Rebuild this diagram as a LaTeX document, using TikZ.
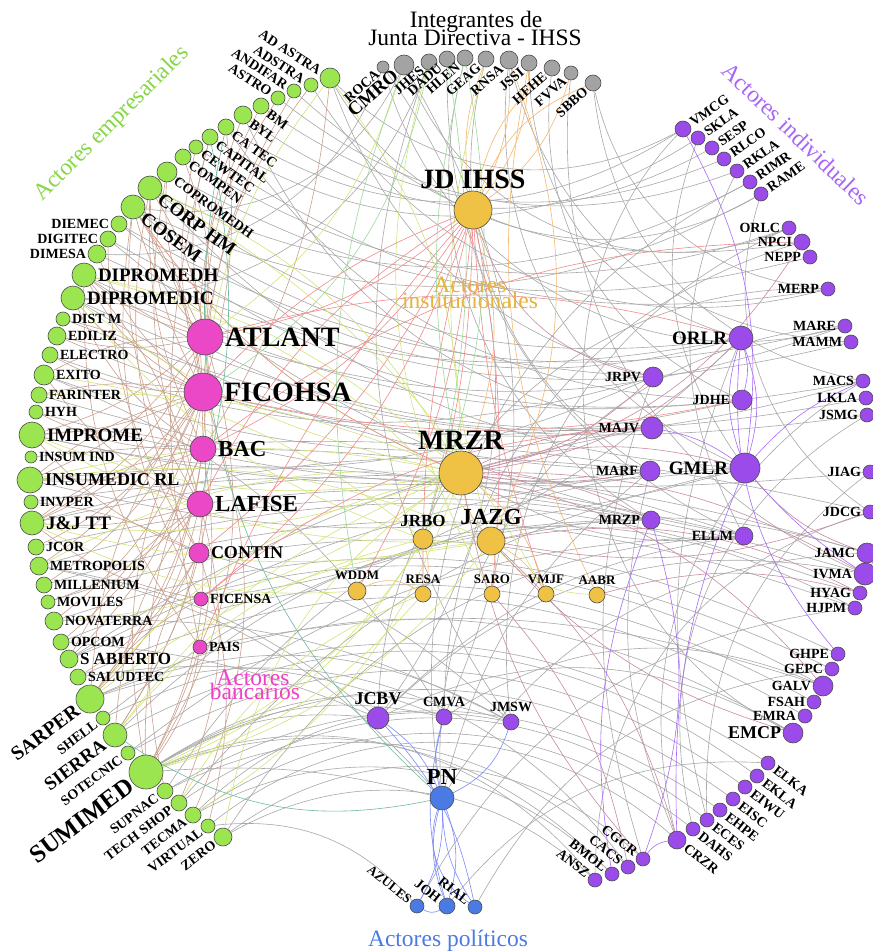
\documentclass[tikz,border=0pt]{standalone}
\usepackage{fontspec}
\setmainfont{Liberation Serif}
\usetikzlibrary{calc}
\pgfdeclarelayer{back}
\pgfdeclarelayer{bg}
\pgfsetlayers{back,bg,main}
\definecolor{cgreen}{HTML}{9BE650}
\definecolor{cgraynd}{HTML}{A3A3A3}
\definecolor{corange}{HTML}{EFC144}
\definecolor{cmag}{HTML}{EA48C6}
\definecolor{cpur}{HTML}{9B4BEA}
\definecolor{cblue}{HTML}{4A7BE5}
\definecolor{tgreen}{HTML}{86D645}
\definecolor{tpur}{HTML}{A866F5}
\definecolor{torange}{HTML}{E6B43A}
\definecolor{tmag}{HTML}{F040C8}
\definecolor{tblue}{HTML}{4A7BE5}
\definecolor{lgray}{HTML}{A8A8A8}
\definecolor{lbrown}{HTML}{C9A08E}
\definecolor{lyg}{HTML}{D3E47A}
\definecolor{lred}{HTML}{F28A8A}
\definecolor{lor}{HTML}{F5B870}
\definecolor{lgr}{HTML}{9ED89E}
\definecolor{lmv}{HTML}{C98BA0}
\definecolor{lpur}{HTML}{A86BF8}
\definecolor{lblue}{HTML}{7C8CF5}
\definecolor{lteal}{HTML}{6FB9A3}
\tikzset{
 nd/.style={circle, draw=black!70, line width=0.6pt, inner sep=0pt, minimum size=#1},
 gn/.style={nd=#1, fill=cgreen},
 yn/.style={nd=#1, fill=cgraynd},
 on/.style={nd=#1, fill=corange},
 mn/.style={nd=#1, fill=cmag},
 pn/.style={nd=#1, fill=cpur},
 bn/.style={nd=#1, fill=cblue},
 f/.style={font=\fontsize{#1}{#1}\selectfont\bfseries, inner sep=1.5pt, text=black},
 grp/.style={font=\fontsize{23.5}{23.5}\selectfont, inner sep=0pt},
 e/.style={line width=0.6pt},
 egray/.style={e, draw=lgray},
 ebr/.style={e, draw=lbrown},
 eyg/.style={e, draw=lyg},
 ered/.style={e, draw=lred},
 eor/.style={e, draw=lor},
 egr/.style={e, draw=lgr},
 emv/.style={e, draw=lmv},
 epu/.style={e, draw=lpur},
 ebl/.style={e, draw=lblue},
 etl/.style={e, draw=lteal},
}
% edge that bows towards the centre of the ring
\newcommand\edg[4]{\draw[#1] let \p1=(#2), \p2=(#3), \p3=(450,480),
  \n1={sign(((\x2-\x1)/100)*((\y3-\y1)/100)-((\y2-\y1)/100)*((\x3-\x1)/100))*#4}
  in (#2) to[bend left=\n1] (#3);}
\begin{document}
\begin{tikzpicture}[x=1pt,y=-1pt]
\begin{pgfonlayer}{back}
\fill[white] (0,0) rectangle (872,952);
\end{pgfonlayer}
\useasboundingbox (0,0) rectangle (872,952);

% ---------- green: outside, top-left
\foreach \nm/\x/\y/\dd/\fs/\tx in {ADASTRA/330/78/20/14/AD ASTRA, ADSTRA/311/85/14/14/ADSTRA, ANDIFAR/294/91/14/14/ANDIFAR, ASTRO/278/98/14/14/ASTRO}
  \node[gn=\dd, label={[f=\fs, rotate=-33, anchor=east]147:\tx}] (\nm) at (\x,\y) {};
% ---------- green: inside, top-left
\foreach \nm/\x/\y/\dd/\fs/\tx in {BM/261/106/16/14/BM, BYL/243/115/18/14/BYL, CATEC/226/127/16/14/CA TEC, CAPITAL/210/137/16/14/CAPITAL, CEWTEC/196/147/14/14/CEWTEC, COMPEN/183/157/16/14/COMPEN, COPROMEDH/167/172/20/14/COPROMEDH, CORPHM/150/188/24/19/CORP HM, COSEM/133/207/24/19/COSEM}
  \node[gn=\dd, label={[f=\fs, rotate=-36, anchor=west]-45:\tx}] (\nm) at (\x,\y) {};
% ---------- green: left labels
\foreach \nm/\x/\y/\dd/\fs/\tx in {DIEMEC/119/224/16/14/DIEMEC, DIGITEC/108/239/16/14/DIGITEC, DIMESA/97/254/18/14/DIMESA}
  \node[gn=\dd, label={[f=\fs]180:\tx}] (\nm) at (\x,\y) {};
% ---------- green: right labels
\foreach \nm/\x/\y/\dd/\fs/\tx in {DIPROMEDH/84/275/24/19/DIPROMEDH, DIPROMEDIC/73/298/24/19/DIPROMEDIC, DISTM/63/319/14/14/DIST M, EDILIZ/57/336/18/14/EDILIZ, ELECTRO/50/355/16/14/ELECTRO, EXITO/44/375/20/14/EXITO, FARINTER/39/395/16/14/FARINTER, HYH/36/412/14/14/HYH, IMPROME/32/435/26/19/IMPROME, INSUMIND/31/457/12/14/INSUM IND, INSUMEDICRL/30/480/26/18/INSUMEDIC RL, INVPER/31/502/14/14/INVPER, JJTT/32/523/24/19/J\&J TT, JCOR/36/547/16/14/JCOR, METROPOLIS/39/566/18/14/METROPOLIS, MILLENIUM/44/585/16/14/MILLENIUM, MOVILES/48/602/14/14/MOVILES, NOVATERRA/54/621/18/14/NOVATERRA, OPCOM/61/642/16/14/OPCOM, SABIERTO/69/659/18/17/S ABIERTO, SALUDTEC/78/677/16/14/SALUDTEC}
  \node[gn=\dd, label={[f=\fs]0:\tx}] (\nm) at (\x,\y) {};
% ---------- green: bottom-left, outside
\foreach \nm/\x/\y/\dd/\fs/\tx in {SARPER/90/699/28/20/SARPER, SHELL/103/718/14/14/SHELL, SIERRA/115/735/24/19/SIERRA, SOTECNIC/128/753/14/14/SOTECNIC, SUMIMED/146/772/34/25/SUMIMED, SUPNAC/165/791/16/14/SUPNAC, TECHSHOP/179/803/16/14/TECH SHOP, TECMA/193/815/16/14/TECMA, VIRTUAL/208/826/14/14/VIRTUAL, ZERO/223/837/18/14/ZERO}
  \node[gn=\dd, label={[f=\fs, rotate=37, anchor=east]217:\tx}] (\nm) at (\x,\y) {};
% ---------- gray: Junta Directiva
\foreach \nm/\x/\y/\dd/\fs/\tx in {ROCA/383/67/12/14/ROCA, CMRO/404/65/20/19/CMRO, JHES/429/62/16/14/JHES, DADU/447/59/16/14/DADU, HLEN/465/58/16/14/HLEN, GEAG/486/59/16/14/GEAG, RNSA/509/60/18/14/RNSA, JSSI/529/63/16/14/JSSI, HEHE/552/68/16/14/HEHE, FVVA/571/73/14/14/FVVA, SBBO/593/83/16/14/SBBO}
  \node[yn=\dd, label={[f=\fs, rotate=41, anchor=east]226:\tx}] (\nm) at (\x,\y) {};
% ---------- orange: institutional
\foreach \nm/\x/\y/\dd/\fs/\tx in {JDIHSS/473/210/38/28/JD IHSS, MRZR/461/473/44/28/MRZR, JRBO/423/539/20/17/JRBO, JAZG/491/541/28/23/JAZG, WDDM/357/591/18/13/WDDM, RESA/423/594/16/13/RESA, SARO/492/594/16/13/SARO, VMJF/546/594/16/13/VMJF, AABR/597/595/16/13/AABR}
  \node[on=\dd, label={[f=\fs]90:\tx}] (\nm) at (\x,\y) {};
% ---------- magenta: banks
\foreach \nm/\x/\y/\dd/\fs/\tx in {ATLANT/205/337/36/28/ATLANT, FICOHSA/203/392/38/28/FICOHSA, BAC/203/449/26/23/BAC, LAFISE/200/504/26/23/LAFISE, CONTIN/199/553/20/18/CONTIN, FICENSA/201/599/14/14/FICENSA, PAIS/200/647/14/14/PAIS}
  \node[mn=\dd, label={[f=\fs]0:\tx}] (\nm) at (\x,\y) {};
% ---------- purple: central, left labels
\foreach \nm/\x/\y/\dd/\fs/\tx in {ORLR/741/338/24/19/ORLR, JRPV/653/377/20/14/JRPV, JDHE/742/400/20/14/JDHE, MAJV/652/428/22/14/MAJV, MARF/650/471/20/14/MARF, GMLR/745/468/30/19/GMLR, MRZP/651/520/18/14/MRZP, ELLM/744/536/18/14/ELLM}
  \node[pn=\dd, label={[f=\fs]180:\tx}] (\nm) at (\x,\y) {};
% ---------- purple: above labels
\foreach \nm/\x/\y/\dd/\fs/\tx in {JCBV/378/718/22/18/JCBV, CMVA/444/717/16/14/CMVA, JMSW/511/722/16/14/JMSW}
  \node[pn=\dd, label={[f=\fs]90:\tx}] (\nm) at (\x,\y) {};
% ---------- purple ring: top-right
\foreach \nm/\x/\y/\dd/\fs/\tx in {VMCG/683/129/16/14/VMCG, SKLA/698/138/14/14/SKLA, SESP/712/148/14/14/SESP, RLCO/724/159/14/14/RLCO, RKLA/737/171/14/14/RKLA, RIMR/750/182/14/14/RIMR, RAME/761/194/14/14/RAME}
  \node[pn=\dd, label={[f=\fs, rotate=35, anchor=west]35:\tx}] (\nm) at (\x,\y) {};
% ---------- purple ring: right, left labels
\foreach \nm/\x/\y/\dd/\fs/\tx in {ORLC/789/228/14/14/ORLC, NPCI/802/242/16/14/NPCI, NEPP/810/257/14/14/NEPP, MERP/828/289/14/14/MERP, MARE/845/326/14/14/MARE, MAMM/851/342/14/14/MAMM, MACS/863/381/14/14/MACS, LKLA/866/398/14/14/LKLA, JSMG/867/415/14/14/JSMG, JIAG/870/472/14/14/JIAG, JDCG/870/512/14/14/JDCG, JAMC/867/553/20/14/JAMC, IVMA/865/574/22/14/IVMA, HYAG/860/593/14/14/HYAG, HJPM/855/608/14/14/HJPM, GHPE/838/654/14/14/GHPE, GEPC/832/669/14/14/GEPC, GALV/823/686/20/14/GALV, FSAH/814/702/14/14/FSAH, EMRA/805/716/14/14/EMRA, EMCP/793/733/20/18/EMCP}
  \node[pn=\dd, label={[f=\fs]180:\tx}] (\nm) at (\x,\y) {};
% ---------- purple ring: bottom-right
\foreach \nm/\x/\y/\dd/\fs/\tx in {ELKA/768/763/14/14/ELKA, EKLA/757/776/14/14/EKLA, EIWU/745/787/14/14/EIWU, EISC/733/799/14/14/EISC, EHPE/720/810/14/14/EHPE, ECES/707/820/14/14/ECES, DAHS/693/829/14/14/DAHS, CRZR/677/840/18/14/CRZR}
  \node[pn=\dd, label={[f=\fs, rotate=-38, anchor=west]-38:\tx}] (\nm) at (\x,\y) {};
\foreach \nm/\x/\y/\dd/\fs/\tx in {CGCR/643/859/14/14/CGCR, CACS/628/867/14/14/CACS, BMOL/612/874/14/14/BMOL, ANSZ/595/880/14/14/ANSZ}
  \node[pn=\dd, label={[f=\fs, rotate=-38, anchor=east]142:\tx}] (\nm) at (\x,\y) {};
% ---------- blue: political
\node[bn=24, label={[f=23]90:PN}] (PN) at (442,798) {};
\foreach \nm/\x/\y/\dd/\fs/\tx in {AZULES/417/906/14/13/AZULES, JOH/447/906/16/14/JOH, RIAL/475/907/14/14/RIAL}
  \node[bn=\dd, label={[f=\fs, rotate=-38, anchor=east]142:\tx}] (\nm) at (\x,\y) {};

% ---------- group titles
\node[grp, anchor=base] (ttl1) at (476,28) {Integrantes de};
\node[grp, anchor=base] (ttl2) at (475,46) {Junta Directiva - IHSS};
\node[grp, text=tgreen, rotate=45] (tEmp) at (112,124) {Actores empresariales};
\node[grp, text=tpur, rotate=-44] (tInd) at (796,134) {Actores individuales};
\node[grp, text=torange, anchor=base] (tIns1) at (470,292) {Actores};
\node[grp, text=torange, anchor=base] (tIns2) at (470,308) {institucionales};
\node[grp, text=tmag, anchor=base] (tBan1) at (253,685) {Actores};
\node[grp, text=tmag, anchor=base] (tBan2) at (255,699) {bancarios};
\node[grp, text=tblue, anchor=base] (tPol) at (448,946) {Actores políticos};

% ---------- edges
\begin{pgfonlayer}{bg}
\foreach \a/\b/\c in {DIEMEC/MARE/12, DIGITEC/MAMM/12, DIMESA/ORLR/10, COSEM/RAME/15, CORPHM/RIMR/15, COPROMEDH/NEPP/12, COMPEN/ORLC/14, CEWTEC/MERP/12, CAPITAL/SKLA/18, CATEC/VMCG/18, BYL/SESP/18, BM/RLCO/16, ASTRO/RKLA/16, ADASTRA/VMCG/20, ANDIFAR/NPCI/14, DIPROMEDH/MACS/10, DIPROMEDIC/LKLA/10, DISTM/JSMG/8, EDILIZ/JDHE/10, ELECTRO/JRPV/10, EXITO/MAJV/8, FARINTER/JIAG/6, HYH/GMLR/6, IMPROME/MARF/5, INSUMIND/JDCG/-5, INSUMEDICRL/MRZP/-5, INVPER/ELLM/-6, JJTT/JAMC/-8, JCOR/IVMA/-8, METROPOLIS/HYAG/-10, MILLENIUM/HJPM/-10, MOVILES/GHPE/-12, NOVATERRA/GEPC/-12, OPCOM/GALV/-14, SABIERTO/FSAH/-14, SALUDTEC/EMRA/-15, SARPER/EMCP/-15, SHELL/ELKA/-16, SIERRA/EKLA/-18, SOTECNIC/EIWU/-18, SUMIMED/EISC/-18, SUPNAC/EHPE/-18, TECHSHOP/ECES/-20, TECMA/DAHS/-20, VIRTUAL/CRZR/-22, ZERO/CGCR/-22, SUMIMED/ANSZ/-20, SUMIMED/BMOL/-18, SARPER/CACS/-20, COSEM/ORLR/15, CORPHM/GMLR/12, DIPROMEDH/MAJV/10, DIPROMEDIC/MARF/8, IMPROME/JRPV/10, INSUMEDICRL/GMLR/8, JJTT/MARF/-6, SUMIMED/JCBV/-10, SUMIMED/CMVA/-12, SUMIMED/JMSW/-14, SARPER/JMSW/-14, SIERRA/MRZP/-12, ZERO/ELLM/-15, TECMA/JMSW/-15, SUPNAC/GMLR/-15, DIEMEC/JDHE/12, DIGITEC/ELLM/8, EXITO/CMVA/-10, METROPOLIS/JCBV/-8, SABIERTO/MAJV/-6, ATLANT/MARE/10, FICOHSA/MACS/8, BAC/ELLM/-5, LAFISE/MRZP/-5, CONTIN/JMSW/-8, FICENSA/ORLR/10, PAIS/GALV/-8, MRZR/ELLM/-10, JAZG/JAMC/-8, JRBO/HJPM/-10, ROCA/JCBV/20, CMRO/CMVA/15, JHES/JMSW/15, DADU/ELLM/18, HLEN/MRZP/20, GEAG/MARF/20, RNSA/GMLR/20, JSSI/ORLR/20, HEHE/JDHE/20, FVVA/IVMA/20, SBBO/MERP/20, ROCA/DIMESA/-20, CMRO/COSEM/-20, JHES/DIPROMEDIC/-20, ADASTRA/JRPV/-15, ADASTRA/RAME/25, ADSTRA/MERP/20, ROCA/MARE/25, CMRO/ORLC/25, SBBO/MACS/20, RNSA/MAMM/20, VMCG/EMCP/30, SKLA/GMLR/15, RKLA/ELLM/15, RIMR/PN/20, RAME/JDCG/20, ORLC/JMSW/20, NPCI/CMVA/20, MERP/JCBV/25, MARE/PN/25, MACS/CRZR/20, JSMG/DAHS/20, JIAG/ECES/15, JDCG/ANSZ/20, JAMC/PN/15, IVMA/JCBV/15, HJPM/AZULES/15, GEPC/RIAL/15, GALV/CMVA/15, EMCP/JCBV/15, ELKA/JOH/15, ECES/ORLR/-10, CRZR/MARF/-10, CGCR/JRPV/-10, ANSZ/ZERO/-20, BMOL/TECMA/-20, CACS/SUPNAC/-20, AZULES/VIRTUAL/-15, MRZP/SHELL/-10, ELLM/SOTECNIC/-10, GMLR/TECHSHOP/-10, MARF/SABIERTO/-5, JRPV/COSEM/-8, ORLR/CORPHM/-12, JDHE/CATEC/-15, MAJV/BYL/-15, JCBV/OPCOM/5, CMVA/SALUDTEC/8, JMSW/NOVATERRA/8, PN/METROPOLIS/10, PN/SUMIMED/5, ELLM/JCBV/10, MARF/PN/-10}
  {\edg{egray}{\a}{\b}{abs(\c)*1.8}}
\foreach \a/\b/\c in {ATLANT/ADSTRA/10, ATLANT/ASTRO/12, ATLANT/BYL/8, ATLANT/CAPITAL/10, ATLANT/COMPEN/-10, ATLANT/COPROMEDH/12, ATLANT/CORPHM/-8, ATLANT/COSEM/10, ATLANT/DIPROMEDH/8, ATLANT/DIPROMEDIC/-8, ATLANT/EDILIZ/10, ATLANT/EXITO/-10, ATLANT/IMPROME/10, ATLANT/INSUMEDICRL/12, ATLANT/JJTT/14, ATLANT/METROPOLIS/15, ATLANT/SARPER/15, ATLANT/SIERRA/15, ATLANT/SUMIMED/18, FICOHSA/ANDIFAR/10, FICOHSA/BM/12, FICOHSA/CATEC/-8, FICOHSA/CEWTEC/10, FICOHSA/CORPHM/10, FICOHSA/COSEM/-10, FICOHSA/DIMESA/10, FICOHSA/DIPROMEDH/12, FICOHSA/DIPROMEDIC/10, FICOHSA/DISTM/-10, FICOHSA/ELECTRO/10, FICOHSA/FARINTER/-8, FICOHSA/IMPROME/8, FICOHSA/INSUMEDICRL/-8, FICOHSA/JJTT/10, FICOHSA/JCOR/12, FICOHSA/MILLENIUM/12, FICOHSA/NOVATERRA/14, FICOHSA/SABIERTO/14, FICOHSA/SARPER/-12, FICOHSA/SIERRA/14, FICOHSA/SUMIMED/-14, FICOHSA/TECMA/16, BAC/ADASTRA/-10, BAC/CORPHM/10, BAC/COSEM/-12, BAC/DIPROMEDIC/12, BAC/HYH/10, BAC/IMPROME/-8, BAC/INSUMEDICRL/10, BAC/JJTT/-10, BAC/OPCOM/10, BAC/SARPER/12, BAC/SUMIMED/14, BAC/SUPNAC/-14, LAFISE/COPROMEDH/12, LAFISE/COSEM/14, LAFISE/DIPROMEDH/-10, LAFISE/EXITO/10, LAFISE/INSUMEDICRL/-8, LAFISE/JJTT/8, LAFISE/MOVILES/10, LAFISE/SABIERTO/-10, LAFISE/SARPER/12, LAFISE/SIERRA/-12, LAFISE/SUMIMED/12, LAFISE/TECHSHOP/14, CONTIN/CORPHM/14, CONTIN/DIGITEC/12, CONTIN/IMPROME/10, CONTIN/INVPER/-8, CONTIN/SALUDTEC/10, CONTIN/SUMIMED/-12, CONTIN/VIRTUAL/12, FICENSA/COSEM/14, FICENSA/JJTT/10, FICENSA/SARPER/-10, PAIS/SUMIMED/10, PAIS/DIPROMEDH/14, PAIS/CAPITAL/10}
  {\pgfmathsetmacro\cc{1.3*\c}\draw[ebr] (\a) to[bend left=\cc] (\b);}
\foreach \a/\b/\c in {MRZR/CORPHM/-12, MRZR/COSEM/10, MRZR/DIPROMEDH/-10, MRZR/DIPROMEDIC/8, MRZR/FARINTER/-8, MRZR/IMPROME/10, MRZR/INSUMEDICRL/-8, MRZR/JJTT/8, MRZR/METROPOLIS/-10, MRZR/NOVATERRA/10, MRZR/SARPER/-12, MRZR/SUMIMED/12, MRZR/SIERRA/-10, MRZR/ZERO/-15, MRZR/TECMA/12, MRZR/ADASTRA/-12, JAZG/IMPROME/10, JAZG/INSUMEDICRL/-10, JAZG/SUMIMED/12, JAZG/SARPER/-10, JAZG/JJTT/8, JAZG/DIPROMEDH/-12, JRBO/DIPROMEDIC/10, JRBO/EXITO/-10, JRBO/SUMIMED/12, JRBO/SIERRA/-12, RESA/SUMIMED/10, RESA/TECHSHOP/-12, WDDM/JJTT/10, CMRO/ATLANT/12, JHES/SARO/-15, AABR/JAZG/15, GEAG/JAZG/-10, ADASTRA/FICOHSA/-10, CORPHM/VMJF/10}
  {\pgfmathsetmacro\cc{1.5*\c}\draw[eyg] (\a) to[bend left=\cc] (\b);}
\foreach \a/\b/\c in {JDIHSS/ATLANT/10, JDIHSS/FICOHSA/-8, JDIHSS/BAC/10, JDIHSS/LAFISE/-10, JDIHSS/CONTIN/8, JDIHSS/FICENSA/10, JDIHSS/PAIS/-6, JDIHSS/JRBO/5, JDIHSS/RESA/-5, JDIHSS/SARO/5, JDIHSS/VMJF/-5, JDIHSS/WDDM/8, ATLANT/ORLR/10, FICOHSA/JDHE/-8, BAC/NPCI/12, FICENSA/MAJV/12, COSEM/MRZR/-10}
  {\pgfmathsetmacro\cc{1.5*\c}\draw[ered] (\a) to[bend left=\cc] (\b);}
\foreach \a/\b/\c in {JDIHSS/RNSA/-10, JDIHSS/JSSI/-12, JDIHSS/HEHE/12, JDIHSS/FVVA/-12, JDIHSS/SBBO/15, JDIHSS/GEAG/10, JSSI/AABR/-12, RNSA/JAZG/15, JRBO/RESA/10, JAZG/VMJF/10, MRZR/JAZG/-10, JAZG/SARO/8, WDDM/RESA/20, MRZR/VMJF/12, JDIHSS/MRZR/12}
  {\pgfmathsetmacro\cc{1.5*\c}\draw[eor] (\a) to[bend left=\cc] (\b);}
\foreach \a/\b/\c in {HLEN/MRZR/-8, DADU/JRBO/8, CMRO/WDDM/-10, HLEN/JRBO/10, JHES/FICOHSA/15}
  {\pgfmathsetmacro\cc{1.5*\c}\draw[egr] (\a) to[bend left=\cc] (\b);}
\foreach \a/\b/\c in {MRZR/JRPV/-10, MRZR/MAJV/8, MRZR/MARF/-6, MRZR/GMLR/10, MRZR/ORLR/-12, MRZR/NPCI/-15, MRZR/MRZP/8, MRZR/IVMA/10, MRZR/GALV/12, MRZR/CGCR/-10, JAZG/JDCG/-10, JAZG/HYAG/12, JAZG/CRZR/10, JAZG/EMCP/-10, SARO/CACS/10, AABR/HYAG/10, JDIHSS/JRPV/-20, GMLR/JAMC/-10}
  {\pgfmathsetmacro\cc{1.5*\c}\draw[emv] (\a) to[bend left=\cc] (\b);}
\foreach \a/\b/\c in {ORLR/GMLR/12, ORLR/GMLR/-12, GMLR/MACS/8, GMLR/IVMA/-5, GMLR/MAJV/-8, ORLR/GHPE/-15, VMCG/GMLR/12, JDCG/IVMA/20, GMLR/CRZR/-8, MRZP/BMOL/-10, MRZP/CGCR/12, CGCR/CRZR/15, ORLR/JDHE/10}
  {\pgfmathsetmacro\cc{1.5*\c}\draw[epu] (\a) to[bend left=\cc] (\b);}
\foreach \a/\b/\c in {PN/JCBV/-10, PN/CMVA/10, PN/JMSW/-15, PN/AZULES/10, PN/JOH/12, PN/JOH/-12, PN/RIAL/-10, PN/RIAL/-25, JCBV/RIAL/10, CMVA/JOH/-10, AZULES/JOH/-20}
  {\pgfmathsetmacro\cc{1.5*\c}\draw[ebl] (\a) to[bend left=\cc] (\b);}
\foreach \a/\b/\c in {CATEC/PN/-20, SIERRA/PN/-15, CAPITAL/LAFISE/8}
  {\pgfmathsetmacro\cc{1.5*\c}\draw[etl] (\a) to[bend left=\cc] (\b);}
\end{pgfonlayer}
\end{tikzpicture}
\end{document}
